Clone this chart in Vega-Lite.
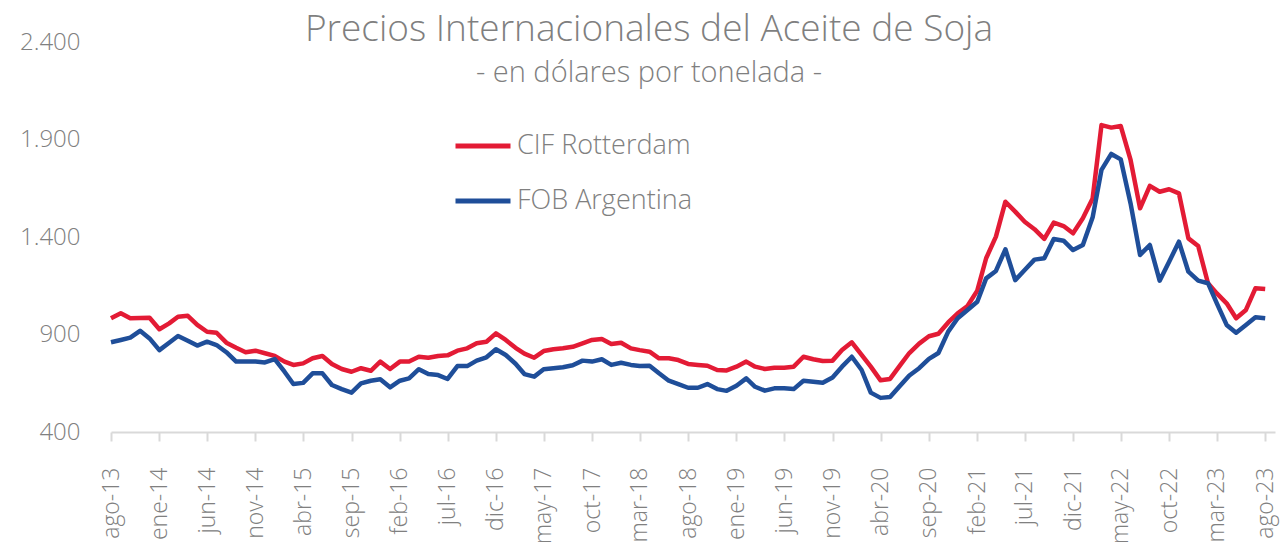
{
  "$schema": "https://vega.github.io/schema/vega-lite/v6.json",
  "autosize": {"type": "none"},
  "width": 1164,
  "height": 390,
  "padding": {"left": 111, "top": 42, "right": 11, "bottom": 110},
  "background": "white",
  "title": {
    "text": "Precios Internacionales del Aceite de Soja",
    "subtitle": "- en dólares por tonelada -",
    "anchor": "middle",
    "frame": "group",
    "dx": -44,
    "dy": 63,
    "font": "Open Sans",
    "fontWeight": 300,
    "fontSize": 37,
    "color": "#7f7f7f",
    "subtitleFont": "Open Sans",
    "subtitleFontWeight": 300,
    "subtitleFontSize": 29,
    "subtitleColor": "#7f7f7f",
    "subtitlePadding": 10
  },
  "config": {
    "view": {"stroke": null},
    "locale": {
      "number": {"decimal": ",", "thousands": ".", "grouping": [3], "currency": ["$", ""]},
      "time": {
        "dateTime": "%A, %e de %B de %Y, %X",
        "date": "%d/%m/%Y",
        "time": "%H:%M:%S",
        "periods": ["AM", "PM"],
        "days": ["domingo", "lunes", "martes", "miércoles", "jueves", "viernes", "sábado"],
        "shortDays": ["dom", "lun", "mar", "mié", "jue", "vie", "sáb"],
        "months": ["enero", "febrero", "marzo", "abril", "mayo", "junio", "julio", "agosto", "septiembre", "octubre", "noviembre", "diciembre"],
        "shortMonths": ["ene", "feb", "mar", "abr", "may", "jun", "jul", "ago", "sep", "oct", "nov", "dic"]
      }
    }
  },
  "data": {
    "values": [
      {"fecha": "2013-08-01", "CIF Rotterdam": 983, "FOB Argentina": 860},
      {"fecha": "2013-09-01", "CIF Rotterdam": 1009, "FOB Argentina": 872},
      {"fecha": "2013-10-01", "CIF Rotterdam": 983, "FOB Argentina": 884},
      {"fecha": "2013-11-01", "CIF Rotterdam": 985, "FOB Argentina": 919},
      {"fecha": "2013-12-01", "CIF Rotterdam": 986, "FOB Argentina": 880},
      {"fecha": "2014-01-01", "CIF Rotterdam": 927, "FOB Argentina": 820},
      {"fecha": "2014-02-01", "CIF Rotterdam": 957, "FOB Argentina": 858},
      {"fecha": "2014-03-01", "CIF Rotterdam": 991, "FOB Argentina": 892},
      {"fecha": "2014-04-01", "CIF Rotterdam": 996, "FOB Argentina": 868},
      {"fecha": "2014-05-01", "CIF Rotterdam": 949, "FOB Argentina": 843},
      {"fecha": "2014-06-01", "CIF Rotterdam": 914, "FOB Argentina": 863},
      {"fecha": "2014-07-01", "CIF Rotterdam": 909, "FOB Argentina": 846},
      {"fecha": "2014-08-01", "CIF Rotterdam": 858, "FOB Argentina": 809},
      {"fecha": "2014-09-01", "CIF Rotterdam": 832, "FOB Argentina": 761},
      {"fecha": "2014-10-01", "CIF Rotterdam": 809, "FOB Argentina": 761},
      {"fecha": "2014-11-01", "CIF Rotterdam": 817, "FOB Argentina": 761},
      {"fecha": "2014-12-01", "CIF Rotterdam": 804, "FOB Argentina": 757},
      {"fecha": "2015-01-01", "CIF Rotterdam": 790, "FOB Argentina": 774},
      {"fecha": "2015-02-01", "CIF Rotterdam": 761, "FOB Argentina": 709},
      {"fecha": "2015-03-01", "CIF Rotterdam": 744, "FOB Argentina": 646},
      {"fecha": "2015-04-01", "CIF Rotterdam": 752, "FOB Argentina": 652},
      {"fecha": "2015-05-01", "CIF Rotterdam": 778, "FOB Argentina": 701},
      {"fecha": "2015-06-01", "CIF Rotterdam": 790, "FOB Argentina": 701},
      {"fecha": "2015-07-01", "CIF Rotterdam": 749, "FOB Argentina": 641},
      {"fecha": "2015-08-01", "CIF Rotterdam": 723, "FOB Argentina": 620},
      {"fecha": "2015-09-01", "CIF Rotterdam": 709, "FOB Argentina": 602},
      {"fecha": "2015-10-01", "CIF Rotterdam": 727, "FOB Argentina": 649},
      {"fecha": "2015-11-01", "CIF Rotterdam": 714, "FOB Argentina": 663},
      {"fecha": "2015-12-01", "CIF Rotterdam": 761, "FOB Argentina": 670},
      {"fecha": "2016-01-01", "CIF Rotterdam": 723, "FOB Argentina": 629},
      {"fecha": "2016-02-01", "CIF Rotterdam": 761, "FOB Argentina": 663},
      {"fecha": "2016-03-01", "CIF Rotterdam": 761, "FOB Argentina": 675},
      {"fecha": "2016-04-01", "CIF Rotterdam": 786, "FOB Argentina": 722},
      {"fecha": "2016-05-01", "CIF Rotterdam": 781, "FOB Argentina": 697},
      {"fecha": "2016-06-01", "CIF Rotterdam": 790, "FOB Argentina": 692},
      {"fecha": "2016-07-01", "CIF Rotterdam": 793, "FOB Argentina": 672},
      {"fecha": "2016-08-01", "CIF Rotterdam": 817, "FOB Argentina": 738},
      {"fecha": "2016-09-01", "CIF Rotterdam": 829, "FOB Argentina": 738},
      {"fecha": "2016-10-01", "CIF Rotterdam": 855, "FOB Argentina": 766},
      {"fecha": "2016-11-01", "CIF Rotterdam": 863, "FOB Argentina": 783},
      {"fecha": "2016-12-01", "CIF Rotterdam": 906, "FOB Argentina": 824},
      {"fecha": "2017-01-01", "CIF Rotterdam": 872, "FOB Argentina": 795},
      {"fecha": "2017-02-01", "CIF Rotterdam": 832, "FOB Argentina": 750},
      {"fecha": "2017-03-01", "CIF Rotterdam": 802, "FOB Argentina": 697},
      {"fecha": "2017-04-01", "CIF Rotterdam": 781, "FOB Argentina": 684},
      {"fecha": "2017-05-01", "CIF Rotterdam": 815, "FOB Argentina": 722},
      {"fecha": "2017-06-01", "CIF Rotterdam": 824, "FOB Argentina": 727},
      {"fecha": "2017-07-01", "CIF Rotterdam": 829, "FOB Argentina": 732},
      {"fecha": "2017-08-01", "CIF Rotterdam": 837, "FOB Argentina": 742},
      {"fecha": "2017-09-01", "CIF Rotterdam": 855, "FOB Argentina": 766},
      {"fecha": "2017-10-01", "CIF Rotterdam": 872, "FOB Argentina": 761},
      {"fecha": "2017-11-01", "CIF Rotterdam": 877, "FOB Argentina": 773},
      {"fecha": "2017-12-01", "CIF Rotterdam": 851, "FOB Argentina": 744},
      {"fecha": "2018-01-01", "CIF Rotterdam": 858, "FOB Argentina": 755},
      {"fecha": "2018-02-01", "CIF Rotterdam": 829, "FOB Argentina": 744},
      {"fecha": "2018-03-01", "CIF Rotterdam": 820, "FOB Argentina": 738},
      {"fecha": "2018-04-01", "CIF Rotterdam": 812, "FOB Argentina": 740},
      {"fecha": "2018-05-01", "CIF Rotterdam": 778, "FOB Argentina": 701},
      {"fecha": "2018-06-01", "CIF Rotterdam": 778, "FOB Argentina": 663},
      {"fecha": "2018-07-01", "CIF Rotterdam": 769, "FOB Argentina": 646},
      {"fecha": "2018-08-01", "CIF Rotterdam": 749, "FOB Argentina": 627},
      {"fecha": "2018-09-01", "CIF Rotterdam": 744, "FOB Argentina": 627},
      {"fecha": "2018-10-01", "CIF Rotterdam": 740, "FOB Argentina": 646},
      {"fecha": "2018-11-01", "CIF Rotterdam": 718, "FOB Argentina": 620},
      {"fecha": "2018-12-01", "CIF Rotterdam": 716, "FOB Argentina": 611},
      {"fecha": "2019-01-01", "CIF Rotterdam": 735, "FOB Argentina": 637},
      {"fecha": "2019-02-01", "CIF Rotterdam": 761, "FOB Argentina": 675},
      {"fecha": "2019-03-01", "CIF Rotterdam": 735, "FOB Argentina": 632},
      {"fecha": "2019-04-01", "CIF Rotterdam": 723, "FOB Argentina": 612},
      {"fecha": "2019-05-01", "CIF Rotterdam": 730, "FOB Argentina": 624},
      {"fecha": "2019-06-01", "CIF Rotterdam": 730, "FOB Argentina": 624},
      {"fecha": "2019-07-01", "CIF Rotterdam": 735, "FOB Argentina": 620},
      {"fecha": "2019-08-01", "CIF Rotterdam": 786, "FOB Argentina": 663},
      {"fecha": "2019-09-01", "CIF Rotterdam": 773, "FOB Argentina": 658},
      {"fecha": "2019-10-01", "CIF Rotterdam": 764, "FOB Argentina": 653},
      {"fecha": "2019-11-01", "CIF Rotterdam": 766, "FOB Argentina": 680},
      {"fecha": "2019-12-01", "CIF Rotterdam": 820, "FOB Argentina": 735},
      {"fecha": "2020-01-01", "CIF Rotterdam": 860, "FOB Argentina": 786},
      {"fecha": "2020-02-01", "CIF Rotterdam": 795, "FOB Argentina": 718},
      {"fecha": "2020-03-01", "CIF Rotterdam": 735, "FOB Argentina": 602},
      {"fecha": "2020-04-01", "CIF Rotterdam": 665, "FOB Argentina": 575},
      {"fecha": "2020-05-01", "CIF Rotterdam": 672, "FOB Argentina": 579},
      {"fecha": "2020-06-01", "CIF Rotterdam": 740, "FOB Argentina": 636},
      {"fecha": "2020-07-01", "CIF Rotterdam": 805, "FOB Argentina": 690},
      {"fecha": "2020-08-01", "CIF Rotterdam": 853, "FOB Argentina": 727},
      {"fecha": "2020-09-01", "CIF Rotterdam": 891, "FOB Argentina": 775},
      {"fecha": "2020-10-01", "CIF Rotterdam": 904, "FOB Argentina": 805},
      {"fecha": "2020-11-01", "CIF Rotterdam": 962, "FOB Argentina": 915},
      {"fecha": "2020-12-01", "CIF Rotterdam": 1009, "FOB Argentina": 983},
      {"fecha": "2021-01-01", "CIF Rotterdam": 1046, "FOB Argentina": 1026},
      {"fecha": "2021-02-01", "CIF Rotterdam": 1125, "FOB Argentina": 1068},
      {"fecha": "2021-03-01", "CIF Rotterdam": 1291, "FOB Argentina": 1188},
      {"fecha": "2021-04-01", "CIF Rotterdam": 1402, "FOB Argentina": 1226},
      {"fecha": "2021-05-01", "CIF Rotterdam": 1581, "FOB Argentina": 1337},
      {"fecha": "2021-06-01", "CIF Rotterdam": 1530, "FOB Argentina": 1179},
      {"fecha": "2021-07-01", "CIF Rotterdam": 1478, "FOB Argentina": 1231},
      {"fecha": "2021-08-01", "CIF Rotterdam": 1440, "FOB Argentina": 1284},
      {"fecha": "2021-09-01", "CIF Rotterdam": 1390, "FOB Argentina": 1291},
      {"fecha": "2021-10-01", "CIF Rotterdam": 1474, "FOB Argentina": 1390},
      {"fecha": "2021-11-01", "CIF Rotterdam": 1456, "FOB Argentina": 1381},
      {"fecha": "2021-12-01", "CIF Rotterdam": 1419, "FOB Argentina": 1333},
      {"fecha": "2022-01-01", "CIF Rotterdam": 1496, "FOB Argentina": 1359},
      {"fecha": "2022-02-01", "CIF Rotterdam": 1598, "FOB Argentina": 1501},
      {"fecha": "2022-03-01", "CIF Rotterdam": 1974, "FOB Argentina": 1744},
      {"fecha": "2022-04-01", "CIF Rotterdam": 1961, "FOB Argentina": 1826},
      {"fecha": "2022-05-01", "CIF Rotterdam": 1969, "FOB Argentina": 1798},
      {"fecha": "2022-06-01", "CIF Rotterdam": 1795, "FOB Argentina": 1572},
      {"fecha": "2022-07-01", "CIF Rotterdam": 1547, "FOB Argentina": 1308},
      {"fecha": "2022-08-01", "CIF Rotterdam": 1662, "FOB Argentina": 1359},
      {"fecha": "2022-09-01", "CIF Rotterdam": 1632, "FOB Argentina": 1176},
      {"fecha": "2022-10-01", "CIF Rotterdam": 1645, "FOB Argentina": 1273},
      {"fecha": "2022-11-01", "CIF Rotterdam": 1624, "FOB Argentina": 1376},
      {"fecha": "2022-12-01", "CIF Rotterdam": 1393, "FOB Argentina": 1222},
      {"fecha": "2023-01-01", "CIF Rotterdam": 1354, "FOB Argentina": 1176},
      {"fecha": "2023-02-01", "CIF Rotterdam": 1163, "FOB Argentina": 1163},
      {"fecha": "2023-03-01", "CIF Rotterdam": 1111, "FOB Argentina": 1060},
      {"fecha": "2023-04-01", "CIF Rotterdam": 1060, "FOB Argentina": 949},
      {"fecha": "2023-05-01", "CIF Rotterdam": 983, "FOB Argentina": 909},
      {"fecha": "2023-06-01", "CIF Rotterdam": 1026, "FOB Argentina": 949},
      {"fecha": "2023-07-01", "CIF Rotterdam": 1137, "FOB Argentina": 988},
      {"fecha": "2023-08-01", "CIF Rotterdam": 1133, "FOB Argentina": 983}
    ]
  },
  "transform": [
    {"fold": ["CIF Rotterdam", "FOB Argentina"], "as": ["serie", "precio"]}
  ],
  "mark": {"type": "line", "strokeWidth": 4.5, "strokeJoin": "round", "strokeCap": "butt", "clip": false},
  "encoding": {
    "x": {
      "field": "fecha",
      "type": "temporal",
      "scale": {
        "type": "utc",
        "domain": [
          {"year": 2013, "month": 8, "date": 1, "utc": true},
          {"year": 2023, "month": 9, "date": 1, "utc": true}
        ]
      },
      "axis": {
        "title": null,
        "labelExpr": "utcFormat(datum.value, '%b-%y')",
        "values": [
          {"year": 2013, "month": 8, "date": 1, "utc": true},
          {"year": 2014, "month": 1, "date": 1, "utc": true},
          {"year": 2014, "month": 6, "date": 1, "utc": true},
          {"year": 2014, "month": 11, "date": 1, "utc": true},
          {"year": 2015, "month": 4, "date": 1, "utc": true},
          {"year": 2015, "month": 9, "date": 1, "utc": true},
          {"year": 2016, "month": 2, "date": 1, "utc": true},
          {"year": 2016, "month": 7, "date": 1, "utc": true},
          {"year": 2016, "month": 12, "date": 1, "utc": true},
          {"year": 2017, "month": 5, "date": 1, "utc": true},
          {"year": 2017, "month": 10, "date": 1, "utc": true},
          {"year": 2018, "month": 3, "date": 1, "utc": true},
          {"year": 2018, "month": 8, "date": 1, "utc": true},
          {"year": 2019, "month": 1, "date": 1, "utc": true},
          {"year": 2019, "month": 6, "date": 1, "utc": true},
          {"year": 2019, "month": 11, "date": 1, "utc": true},
          {"year": 2020, "month": 4, "date": 1, "utc": true},
          {"year": 2020, "month": 9, "date": 1, "utc": true},
          {"year": 2021, "month": 2, "date": 1, "utc": true},
          {"year": 2021, "month": 7, "date": 1, "utc": true},
          {"year": 2021, "month": 12, "date": 1, "utc": true},
          {"year": 2022, "month": 5, "date": 1, "utc": true},
          {"year": 2022, "month": 10, "date": 1, "utc": true},
          {"year": 2023, "month": 3, "date": 1, "utc": true},
          {"year": 2023, "month": 8, "date": 1, "utc": true}
        ],
        "labelAngle": -90,
        "labelAlign": "right",
        "labelBaseline": "middle",
        "labelFont": "Open Sans",
        "labelFontWeight": 300,
        "labelFontSize": 23,
        "labelColor": "#808080",
        "labelPadding": 26,
        "labelOverlap": false,
        "labelFlush": false,
        "domainColor": "#d9d9d9",
        "domainWidth": 2,
        "tickColor": "#d9d9d9",
        "tickWidth": 2,
        "tickSize": 9,
        "grid": false
      }
    },
    "y": {
      "field": "precio",
      "type": "quantitative",
      "scale": {"domain": [400, 2400], "nice": false, "zero": false},
      "axis": {
        "title": null,
        "values": [400, 900, 1400, 1900, 2400],
        "labelExpr": "replace(format(datum.value, ',d'), ',', '.')",
        "domain": false,
        "ticks": false,
        "grid": false,
        "labelFont": "Open Sans",
        "labelFontWeight": 300,
        "labelFontSize": 24,
        "labelColor": "#808080",
        "labelPadding": 31
      }
    },
    "color": {
      "field": "serie",
      "type": "nominal",
      "scale": {"domain": ["CIF Rotterdam", "FOB Argentina"], "range": ["#e31b35", "#1f4e99"]},
      "legend": {
        "title": null,
        "orient": "none",
        "legendX": 342,
        "legendY": 74,
        "symbolType": "stroke",
        "symbolSize": 3025,
        "symbolStrokeWidth": 5,
        "labelFont": "Open Sans",
        "labelFontWeight": 300,
        "labelFontSize": 27,
        "labelColor": "#808080",
        "labelOffset": 4,
        "rowPadding": 12,
        "labelLimit": 400
      }
    }
  }
}
